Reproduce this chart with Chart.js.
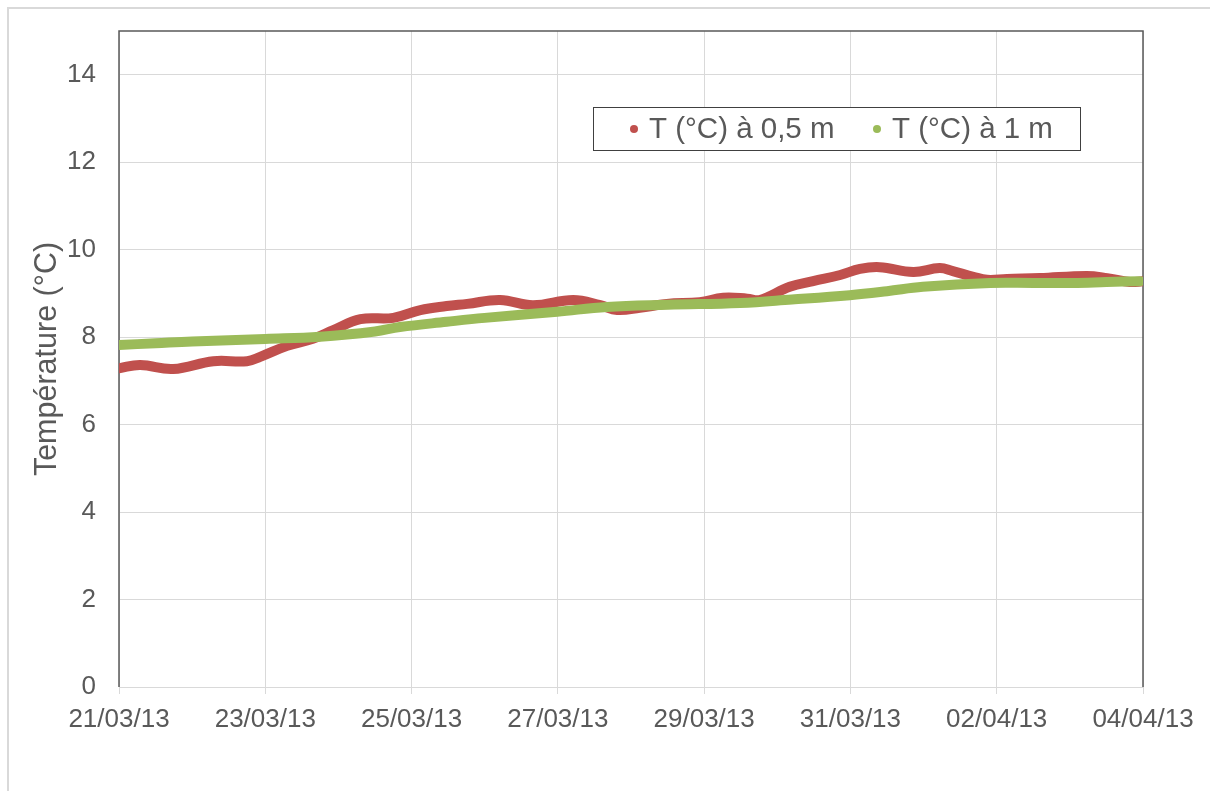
<!DOCTYPE html>
<html>
<head>
<meta charset="utf-8">
<script src="https://cdn.jsdelivr.net/npm/chart.js@4.4.1/dist/chart.umd.min.js"></script>
<style>
  html, body { margin: 0; padding: 0; background: #ffffff; }
  #wrap { width: 1210px; height: 791px; position: relative; }
</style>
</head>
<body>
<div id="wrap"><canvas id="c" width="1210" height="791"></canvas></div>
<script>
// Dates shown on the x axis (one every 2 days, starting 21/03/13)
const tickLabels = ['21/03/13', '23/03/13', '25/03/13', '27/03/13', '29/03/13', '31/03/13', '02/04/13', '04/04/13'];

// Temperature at 0.5 m depth: time in days since 21/03/13 and value in °C
const days05 = [0, 0.29, 0.74, 1.29, 1.75, 1.93, 2.30, 2.65, 2.93, 3.30, 3.75, 4.12, 4.48, 4.76, 5.21, 5.66, 6.21, 6.58, 6.81, 7.12, 7.49, 7.94, 8.26, 8.59, 8.76, 9.17, 9.49, 9.86, 10.13, 10.40, 10.86, 11.22, 11.40, 11.68, 11.87, 12.14, 12.59, 13.23, 13.51, 13.82, 14.0];
const temp05 = [7.29, 7.36, 7.27, 7.45, 7.45, 7.55, 7.80, 7.96, 8.16, 8.41, 8.44, 8.62, 8.71, 8.76, 8.85, 8.73, 8.85, 8.73, 8.62, 8.67, 8.76, 8.80, 8.90, 8.88, 8.85, 9.15, 9.28, 9.42, 9.56, 9.60, 9.49, 9.58, 9.51, 9.38, 9.31, 9.33, 9.35, 9.40, 9.35, 9.26, 9.28];

// Temperature at 1 m depth
const days1 = [0, 0.5, 1.0, 2.0, 2.75, 3.5, 3.84, 4.48, 5.0, 5.99, 6.67, 7.5, 8.49, 9.2, 9.99, 10.5, 10.99, 11.91, 12.5, 13.04, 13.5, 13.96];
const temp1 = [7.82, 7.86, 7.90, 7.96, 8.01, 8.13, 8.23, 8.35, 8.44, 8.58, 8.69, 8.74, 8.78, 8.86, 8.96, 9.05, 9.15, 9.24, 9.24, 9.24, 9.26, 9.28];

const seriesNames = ['T (°C) à 0,5 m', 'T (°C) à 1 m'];
const seriesColors = ['#C0504D', '#9BBB59'];

const FONT = "'Liberation Sans', Arial, sans-serif";
const TEXT = '#595959';
const GRID = '#D9D9D9';

function toPoints(xs, ys) { return xs.map((x, i) => ({ x: x, y: ys[i] })); }

// Page background, outer frame and the plot-area border
const framePlugin = {
  id: 'frame',
  beforeDraw(chart) {
    const ctx = chart.ctx;
    ctx.save();
    ctx.fillStyle = '#ffffff';
    ctx.fillRect(0, 0, chart.width, chart.height);
    ctx.strokeStyle = '#D9D9D9';
    ctx.lineWidth = 2;
    ctx.beginPath();
    ctx.moveTo(8, chart.height);
    ctx.lineTo(8, 8);
    ctx.lineTo(chart.width, 8);
    ctx.stroke();
    ctx.restore();
  },
  beforeDatasetsDraw(chart) {
    const a = chart.chartArea;
    const ctx = chart.ctx;
    ctx.save();
    ctx.lineWidth = 1.5;
    ctx.strokeStyle = '#595959';
    ctx.beginPath();
    ctx.moveTo(a.left, a.bottom);
    ctx.lineTo(a.left, a.top);
    ctx.lineTo(a.right, a.top);
    ctx.lineTo(a.right, a.bottom);
    ctx.stroke();
    ctx.restore();
  }
};

// Legend box drawn inside the plot area
const legendPlugin = {
  id: 'boxLegend',
  afterDraw(chart) {
    const ctx = chart.ctx;
    const box = { x: 593.5, y: 107.5, w: 487, h: 43 };
    ctx.save();
    ctx.fillStyle = '#ffffff';
    ctx.fillRect(box.x, box.y, box.w, box.h);
    ctx.strokeStyle = '#404040';
    ctx.lineWidth = 1;
    ctx.strokeRect(box.x, box.y, box.w, box.h);
    ctx.font = '29.5px ' + FONT;
    ctx.textBaseline = 'middle';
    const cy = box.y + box.h / 2;
    const dotX = [634, 877];
    chart.data.datasets.forEach((ds, i) => {
      ctx.fillStyle = ds.borderColor;
      ctx.beginPath();
      ctx.arc(dotX[i], cy, 4, 0, Math.PI * 2);
      ctx.fill();
      ctx.fillStyle = TEXT;
      ctx.fillText(ds.label, dotX[i] + 15, cy + 1);
    });
    ctx.restore();
  }
};

new Chart(document.getElementById('c'), {
  type: 'line',
  data: {
    datasets: [
      {
        label: seriesNames[0],
        data: toPoints(days05, temp05),
        borderColor: seriesColors[0],
        backgroundColor: seriesColors[0],
        borderWidth: 10,
        borderCapStyle: 'round',
        borderJoinStyle: 'round',
        pointRadius: 0,
        tension: 0.4,
        order: 2
      },
      {
        label: seriesNames[1],
        data: toPoints(days1, temp1),
        borderColor: seriesColors[1],
        backgroundColor: seriesColors[1],
        borderWidth: 10,
        borderCapStyle: 'round',
        borderJoinStyle: 'round',
        pointRadius: 0,
        tension: 0.4,
        order: 1
      }
    ]
  },
  options: {
    responsive: false,
    animation: false,
    events: [],
    layout: { padding: { left: 8, top: 31, right: 67, bottom: 0 } },
    plugins: {
      legend: { display: false },
      tooltip: { enabled: false }
    },
    scales: {
      x: {
        type: 'linear',
        min: 0,
        max: 14,
        afterFit(scale) { scale.height = 104; scale.paddingLeft = 0; scale.paddingRight = 0; },
        grid: { color: GRID, lineWidth: 1, drawTicks: true, tickLength: 7, tickColor: GRID },
        border: { display: true, color: GRID, width: 1 },
        ticks: {
          stepSize: 2,
          maxRotation: 0,
          autoSkip: false,
          padding: 10,
          color: TEXT,
          font: { family: FONT, size: 26 },
          callback: (v) => tickLabels[Math.round(v / 2)]
        }
      },
      y: {
        min: 0,
        max: 15,
        afterFit(scale) { scale.width = 111; scale.paddingTop = 0; scale.paddingBottom = 0; },
        grid: { color: GRID, lineWidth: 1, drawTicks: false },
        border: { display: false },
        ticks: {
          stepSize: 2,
          padding: 23,
          color: TEXT,
          font: { family: FONT, size: 26 },
          callback: (v) => (v % 2 === 0 ? String(v) : null)
        },
        title: {
          display: true,
          text: 'Température (°C)',
          color: TEXT,
          font: { family: FONT, size: 30.5 },
          padding: { top: 21, bottom: 0 }
        }
      }
    }
  },
  plugins: [framePlugin, legendPlugin]
});
</script>
</body>
</html>
